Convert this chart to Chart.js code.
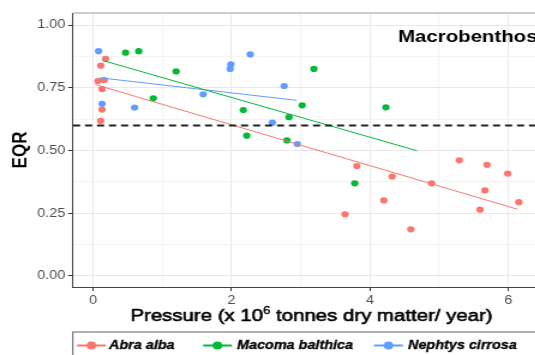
<!DOCTYPE html>
<html>
<head>
<meta charset="utf-8">
<script src="https://cdn.jsdelivr.net/npm/chart.js@4.4.1/dist/chart.umd.min.js"></script>
<style>
  html, body { margin:0; padding:0; background:#fff; overflow:hidden; }
  #wrap { width:535px; height:355px; overflow:hidden; position:relative; background:#fff; }
  #c { position:absolute; left:0; top:0; width:475px; height:355px; transform:scaleX(1.2); transform-origin:0 0; }
</style>
</head>
<body>
<div id="wrap"><canvas id="c" width="475" height="355"></canvas></div>
<script>
// ---- data ----
const abraX = [0.18, 0.11, 0.07, 0.16, 0.13, 0.13, 0.11, 3.81, 4.32, 5.29, 5.69, 5.99, 4.89, 5.66, 6.15, 5.59, 4.20, 3.64, 4.59];
const abraY = [0.865, 0.838, 0.777, 0.781, 0.745, 0.663, 0.618, 0.438, 0.396, 0.461, 0.443, 0.408, 0.369, 0.341, 0.294, 0.264, 0.301, 0.246, 0.186];
const macomaX = [0.47, 0.66, 1.20, 0.87, 2.17, 2.22, 3.19, 3.02, 2.83, 2.80, 4.23, 3.78];
const macomaY = [0.890, 0.896, 0.815, 0.708, 0.661, 0.559, 0.825, 0.680, 0.633, 0.540, 0.672, 0.369];
const nephtysX = [0.08, 0.13, 0.60, 1.59, 1.98, 1.99, 2.27, 2.76, 2.59, 2.95];
const nephtysY = [0.896, 0.686, 0.671, 0.724, 0.825, 0.843, 0.883, 0.757, 0.611, 0.526];
// fitted trend lines (endpoints)
const abraFitX = [0.03, 6.13];
const abraFitY = [0.763, 0.266];
const macomaFitX = [0.15, 4.68];
const macomaFitY = [0.858, 0.499];
const nephtysFitX = [0.09, 2.94];
const nephtysFitY = [0.790, 0.700];
const THRESHOLD = 0.6;
const seriesNames = ['Abra alba', 'Macoma balthica', 'Nephtys cirrosa'];
const xTickLabels = [0, 2, 4, 6];
const xMinorTicks = [1, 3, 5];
const yTickLabels = [0, 0.25, 0.5, 0.75, 1];
const yMinorTicks = [0.125, 0.375, 0.625, 0.875];
const X_MIN = -0.29, X_MAX = 6.6;
const Y_MIN = -0.044, Y_MAX = 1.048;
const panelLabel = 'Macrobenthos';

// ---- styles ----
const COLORS = ['#F8766D', '#00BA38', '#619CFF'];
const FONT = "'Liberation Sans', Arial, Helvetica, sans-serif";

const pts = (xs, ys) => xs.map((x, i) => ({ x, y: ys[i] }));
const isMajorX = v => xTickLabels.some(t => Math.abs(t - v) < 1e-9);
const isMajorY = v => yTickLabels.some(t => Math.abs(t - v) < 1e-9);

function scatterDS(label, xs, ys, color) {
  return { type: 'scatter', label, data: pts(xs, ys), backgroundColor: color, borderWidth: 0,
           pointRadius: 3.1, pointHoverRadius: 3.1, order: 3 };
}
function lineDS(label, xs, ys, color) {
  return { type: 'line', label, data: pts(xs, ys), borderColor: color, borderWidth: 1,
           pointRadius: 0, fill: false, tension: 0, order: 2 };
}

function heavyText(ctx, t, x, y, w) {
  ctx.fillText(t, x, y);
  ctx.lineWidth = w;
  ctx.strokeStyle = ctx.fillStyle;
  ctx.strokeText(t, x, y);
}

const textPlugin = {
  id: 'textPlugin',
  afterDraw(chart) {
    const { ctx, chartArea } = chart;
    ctx.save();
    // top panel border
    ctx.strokeStyle = '#bdbdbd';
    ctx.lineWidth = 1.5;
    ctx.beginPath();
    ctx.moveTo(chartArea.left, chartArea.top);
    ctx.lineTo(chartArea.right, chartArea.top);
    ctx.stroke();

    ctx.fillStyle = '#000';
    // y title
    ctx.save();
    ctx.translate(17.5, (chartArea.top + chartArea.bottom) / 2);
    ctx.rotate(-Math.PI / 2);
    ctx.font = 'bold 17px ' + FONT;
    ctx.textAlign = 'center';
    ctx.textBaseline = 'middle';
    ctx.fillText('EQR', 0, 0);
    ctx.restore();

    // x title with superscript
    const p1 = 'Pressure (x 10', sup = '6', p2 = ' tonnes dry matter/ year)';
    const big = '17px ' + FONT, small = '11px ' + FONT;
    ctx.font = big; const w1 = ctx.measureText(p1).width, w3 = ctx.measureText(p2).width;
    ctx.font = small; const w2 = ctx.measureText(sup).width;
    let x = (chartArea.left + chartArea.right) / 2 - (w1 + w2 + w3) / 2;
    const base = 321;
    ctx.textAlign = 'left'; ctx.textBaseline = 'alphabetic';
    ctx.font = big; heavyText(ctx, p1, x, base, 0.6); x += w1;
    ctx.font = small; heavyText(ctx, sup, x, base - 7, 0.4); x += w2;
    ctx.font = big; heavyText(ctx, p2, x, base, 0.6);

    // panel label
    ctx.font = 'bold 17px ' + FONT;
    ctx.fillText(panelLabel, 331.7, 42);

    // legend
    ctx.strokeStyle = '#7a7a7a';
    ctx.lineWidth = 1.2;
    ctx.strokeRect(60.6, 332, 480, 40);
    const markerX = [64.2, 169.2, 311.7];
    const textX = [90.8, 197.5, 340];
    const ly = 345.5;
    ctx.font = 'italic bold 12px ' + FONT;
    ctx.textBaseline = 'middle';
    seriesNames.forEach((name, i) => {
      ctx.strokeStyle = COLORS[i];
      ctx.lineWidth = 2;
      ctx.beginPath();
      ctx.moveTo(markerX[i], ly); ctx.lineTo(markerX[i] + 24, ly); ctx.stroke();
      ctx.fillStyle = COLORS[i];
      ctx.beginPath(); ctx.arc(markerX[i] + 12, ly, 4, 0, Math.PI * 2); ctx.fill();
      ctx.fillStyle = '#000';
      heavyText(ctx, name, textX[i], ly, 0.3);
    });
    ctx.restore();
  }
};

new Chart(document.getElementById('c'), {
  data: {
    datasets: [
      { type: 'line', label: 'threshold', data: [{ x: X_MIN, y: THRESHOLD }, { x: X_MAX, y: THRESHOLD }],
        borderColor: '#222', borderWidth: 2, borderDash: [6, 4], pointRadius: 0, fill: false, order: 0 },
      lineDS('fit ' + seriesNames[0], abraFitX, abraFitY, COLORS[0]),
      lineDS('fit ' + seriesNames[1], macomaFitX, macomaFitY, COLORS[1]),
      lineDS('fit ' + seriesNames[2], nephtysFitX, nephtysFitY, COLORS[2]),
      scatterDS(seriesNames[0], abraX, abraY, COLORS[0]),
      scatterDS(seriesNames[1], macomaX, macomaY, COLORS[1]),
      scatterDS(seriesNames[2], nephtysX, nephtysY, COLORS[2])
    ]
  },
  options: {
    responsive: false,
    animation: false,
    devicePixelRatio: 1,
    layout: { padding: { top: 13, right: 16.7, left: 0, bottom: 0 } },
    plugins: { legend: { display: false }, tooltip: { enabled: false } },
    scales: {
      x: {
        type: 'linear', min: X_MIN, max: X_MAX,
        afterBuildTicks: s => { s.ticks = [...xTickLabels, ...xMinorTicks].sort((a, b) => a - b).map(v => ({ value: v })); },
        afterFit: s => { s.height = 68; },
        ticks: { autoSkip: false, maxRotation: 0, padding: 2, color: '#4d4d4d',
                 font: { family: FONT, size: 12 },
                 callback: v => isMajorX(v) ? String(v) : '' },
        grid: { color: c => isMajorX(c.tick ? c.tick.value : 0) ? '#e8e8e8' : '#f3f3f3',
                tickColor: c => isMajorX(c.tick ? c.tick.value : 0) ? '#333' : 'rgba(0,0,0,0)',
                tickLength: 4, lineWidth: 1 },
        border: { color: '#444', width: 1 }
      },
      y: {
        type: 'linear', min: Y_MIN, max: Y_MAX,
        afterBuildTicks: s => { s.ticks = [...yTickLabels, ...yMinorTicks].sort((a, b) => a - b).map(v => ({ value: v })); },
        afterFit: s => { s.width = 60.8; },
        ticks: { autoSkip: false, padding: 2.5, color: '#4d4d4d',
                 font: { family: FONT, size: 12 },
                 callback: v => isMajorY(v) ? v.toFixed(2) : '' },
        grid: { color: c => isMajorY(c.tick ? c.tick.value : 0) ? '#e8e8e8' : '#f3f3f3',
                tickColor: c => isMajorY(c.tick ? c.tick.value : 0) ? '#333' : 'rgba(0,0,0,0)',
                tickLength: 4, lineWidth: 1 },
        border: { color: '#444', width: 1 }
      }
    }
  },
  plugins: [textPlugin]
});
</script>
</body>
</html>
